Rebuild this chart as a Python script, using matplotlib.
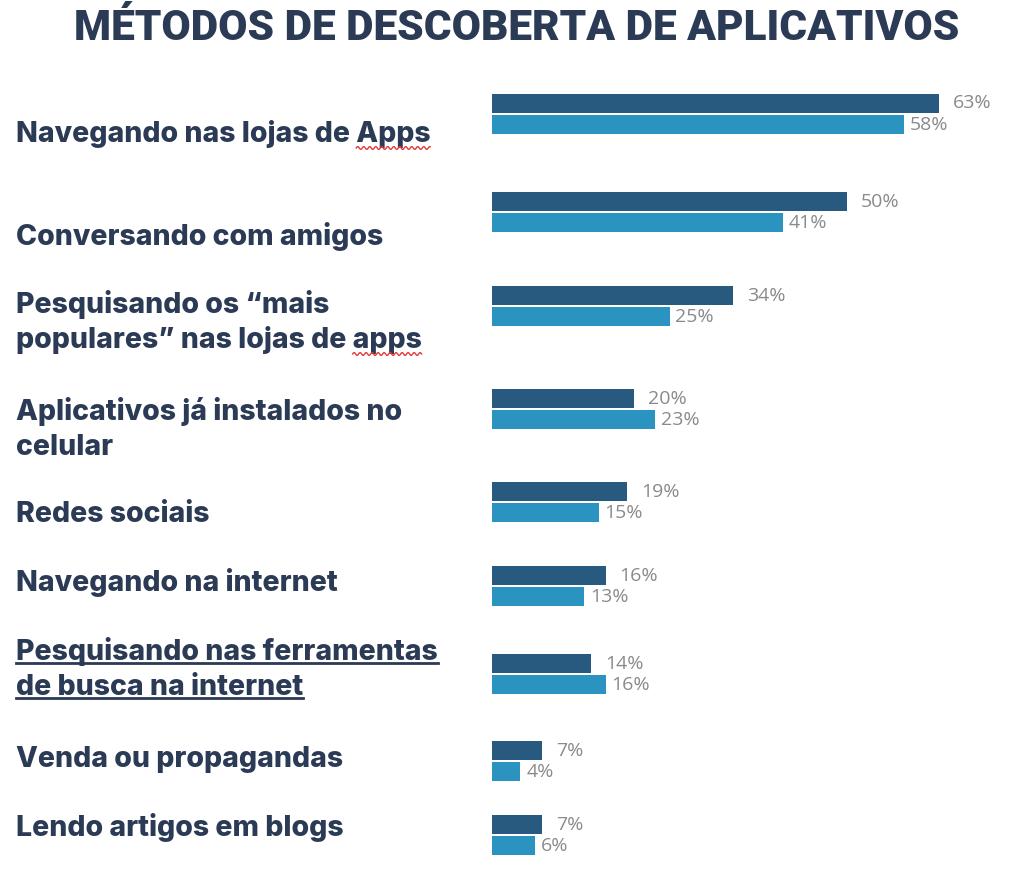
#!/usr/bin/env python3
"""Métodos de descoberta de aplicativos - barras horizontais em pares."""

import numpy as np
import matplotlib
matplotlib.use('Agg')
import matplotlib.pyplot as plt
from matplotlib.lines import Line2D
from matplotlib.transforms import blended_transform_factory, IdentityTransform

# ── dados ─────────────────────────────────────────────
title = "MÉTODOS DE DESCOBERTA DE APLICATIVOS"
categories = [
    "Navegando nas lojas de Apps",
    "Conversando com amigos",
    "Pesquisando os \u201cmais\npopulares\u201d nas lojas de apps",
    "Aplicativos já instalados no\ncelular",
    "Redes sociais",
    "Navegando na internet",
    "Pesquisando nas ferramentas\nde busca na internet",
    "Venda ou propagandas",
    "Lendo artigos em blogs",
]
values_dark = [63, 50, 34, 20, 19, 16, 14, 7, 7]
values_light = [58, 41, 25, 23, 15, 13, 16, 4, 6]

# ── layout (pixels of the 1024x871 canvas) ────────────
W, H = 1024, 871
row_centers = np.array([114, 212, 306, 409, 502, 586, 674, 761, 835])
label_baselines = [142, 245, 313, 420, 522, 591, 660, 767, 836]
line_step = 35
bar_left = 492
px_per_pct = 7.1
bar_h = 19

NAVY = '#2b3a55'
DARK = '#285a80'
LIGHT = '#2a93c0'
GRAY = '#8a8a8a'

fig = plt.figure(figsize=(W / 100, H / 100), dpi=100)
fig.patch.set_facecolor('white')

ax = fig.add_axes([bar_left / W, 0, 1 - bar_left / W, 1])
ax.set_xlim(0, (W - bar_left) / px_per_pct)
ax.set_ylim(H, 0)
ax.axis('off')

ax.barh(row_centers - 10.5, values_dark, height=bar_h, color=DARK)
ax.barh(row_centers + 10.5, values_light, height=bar_h, color=LIGHT)

val_kw = dict(va='center', ha='left', fontsize=14, family='Open Sans',
              color=GRAY, textcoords='offset pixels')
for y, v in zip(row_centers - 10.5, values_dark):
    ax.annotate(f"{v}%", (v, y), xytext=(14, 0), **val_kw)
for y, v in zip(row_centers + 10.5, values_light):
    ax.annotate(f"{v}%", (v, y), xytext=(6, 0), **val_kw)

fig.text(0.5 + 5 / W, 1 - 28 / H, title, ha='center', va='center', fontsize=30.5,
         fontweight='black', family='Roboto', color=NAVY)

label_kw = dict(fontsize=20.5, fontweight='heavy', family='Inter', color=NAVY,
                ha='left', va='baseline')
trans = blended_transform_factory(fig.transFigure, ax.transData)

line_texts = []
for i, (cat, base) in enumerate(zip(categories, label_baselines)):
    rows = []
    for j, line in enumerate(cat.split('\n')):
        t = ax.text(16 / W, base + j * line_step, line, transform=trans, **label_kw)
        rows.append(t)
    line_texts.append(rows)

fig.canvas.draw()
renderer = fig.canvas.get_renderer()


def word_width(word):
    tmp = ax.text(0, 0, word, transform=trans, **label_kw)
    w = tmp.get_window_extent(renderer).width
    tmp.remove()
    return w


def baseline_disp(ypx):
    return ax.transData.transform((0, ypx))[1]


# underline for "Pesquisando nas ferramentas de busca na internet"
for j, t in enumerate(line_texts[6]):
    bb = t.get_window_extent(renderer)
    yb = baseline_disp(label_baselines[6] + j * line_step) - 3
    fig.add_artist(Line2D([bb.x0, bb.x1], [yb, yb], color=NAVY, lw=2,
                          transform=IdentityTransform()))

# red spell-check squiggles under "Apps" / "apps"
for idx, word in [(0, "Apps"), (2, "apps")]:
    t = line_texts[idx][-1]
    bb = t.get_window_extent(renderer)
    w = word_width(word)
    xs = np.arange(bb.x1 - w, bb.x1, 1.0)
    yb = baseline_disp(label_baselines[idx] + (len(line_texts[idx]) - 1) * line_step) - 6
    ys = yb + 1.5 * np.sin(2 * np.pi * (xs - xs[0]) / 6.0)
    fig.add_artist(Line2D(xs, ys, color='#e23b3b', lw=1,
                          transform=IdentityTransform()))

fig.savefig('out.png', dpi=100, facecolor='white')
